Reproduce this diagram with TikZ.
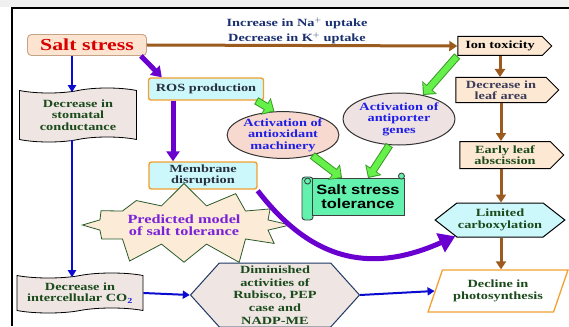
\documentclass[tikz,border=0pt]{standalone}
\usepackage{fontspec}
\setmainfont{Liberation Serif}[FakeStretch=1.3]
\newfontfamily\tolfont{Liberation Sans}[FakeStretch=1.22]
\usetikzlibrary{arrows.meta,positioning,calc,shapes.geometric,shapes.symbols}

\definecolor{stressfill}{HTML}{FCE4D0}
\definecolor{stressedge}{HTML}{C4A484}
\definecolor{stressred}{HTML}{D80000}
\definecolor{cellcyan}{HTML}{CCF8FC}
\definecolor{cellorange}{HTML}{F2A030}
\definecolor{celltext}{HTML}{283040}
\definecolor{leafpeach}{HTML}{FDE9D3}
\definecolor{textgreen}{HTML}{1B4A1B}
\definecolor{leafgray}{HTML}{3C3C5A}
\definecolor{wavefill}{HTML}{EFE6E4}
\definecolor{hexedge}{HTML}{1F3864}
\definecolor{ovalpink}{HTML}{F8D9D0}
\definecolor{ovalgray}{HTML}{EFE2E2}
\definecolor{ovalblue}{HTML}{1E1EE6}
\definecolor{tolgreen}{HTML}{62F2AE}
\definecolor{burstfill}{HTML}{FCEBD6}
\definecolor{burstedge}{HTML}{2A5A2A}
\definecolor{burstpurple}{HTML}{7A22D8}
\definecolor{uptakeblue}{HTML}{1A3070}
\definecolor{arrowbrown}{HTML}{9B5B1F}
\definecolor{arrowblue}{HTML}{0A0AD0}
\definecolor{arrowpurple}{HTML}{6A00D0}
\definecolor{fatgreen}{HTML}{66F04A}
\definecolor{fatedge}{HTML}{3A9A2A}

\newcommand{\boxfont}{\bfseries\fontsize{11}{11.5}\selectfont}

\tikzset{
  stressbox/.style={
    rectangle,
    rounded corners=4pt,
    draw=stressedge,
    fill=stressfill,
    line width=0.9pt,
    text=stressred,
    minimum width=119pt,
    minimum height=21pt,
    font=\bfseries\fontsize{16.8}{18}\selectfont
  },
  cellbox/.style={
    rectangle,
    rounded corners=2.5pt,
    draw=cellorange,
    fill=cellcyan,
    line width=1.4pt,
    text=celltext,
    align=center,
    inner sep=1pt,
    font=\boxfont
  },
  leafsign/.style={
    signal,
    signal to=east,
    signal pointer angle=90,
    draw=black,
    fill=leafpeach,
    line width=1pt,
    align=center,
    inner sep=1pt,
    font=\boxfont
  },
  hexbox/.style={
    signal,
    signal to=east and west,
    line width=1pt,
    align=center,
    inner sep=1pt,
    text=textgreen,
    font=\boxfont
  },
  wavebox/.style={
    tape,
    tape bend height=5pt,
    draw=black,
    fill=wavefill,
    line width=0.8pt,
    align=center,
    inner sep=1pt,
    text=textgreen,
    font=\boxfont
  },
  ovalbox/.style={
    ellipse,
    draw=black!80,
    line width=1pt,
    text=ovalblue,
    align=center,
    inner sep=0pt,
    font=\boxfont
  },
  photobox/.style={
    trapezium,
    trapezium left angle=66,
    trapezium right angle=114,
    trapezium stretches=true,
    draw=cellorange,
    fill=white,
    line width=1.3pt,
    align=center,
    text=textgreen,
    font=\boxfont
  },
  burstbox/.style={
    starburst,
    starburst points=12,
    starburst point height=24pt,
    random starburst=7,
    draw=burstedge,
    fill=burstfill,
    line width=0.8pt,
    align=center,
    text=burstpurple,
    font=\bfseries\fontsize{12.5}{12.5}\selectfont
  },
  tolbox/.style={
    rectangle,
    draw=black!75,
    fill=tolgreen,
    line width=0.9pt,
    align=center,
    font=\tolfont\bfseries\fontsize{13.5}{14}\selectfont
  },
  brownarrow/.style={-{Triangle[length=8pt,width=10pt]}, line width=3pt, draw=arrowbrown},
  bluearrow/.style={-{Triangle[length=7pt,width=8pt]}, line width=2pt, draw=arrowblue},
  purplearrow/.style={-{Triangle[length=10pt,width=13pt]}, line width=5pt, draw=arrowpurple},
  greenedge/.style={-{Triangle[length=10pt,width=19pt]}, line width=8pt, draw=fatedge},
  greenbody/.style={-{Triangle[length=7.6pt,width=15pt]}, line width=6pt, draw=fatgreen,
    shorten <=1pt, shorten >=1.5pt}
}

\begin{document}
\begin{tikzpicture}[x=1pt,y=-1pt]
  \useasboundingbox (0,0) rectangle (569,326);
  \fill[white] (0,0) rectangle (569,326);
  \fill[black!6] (0,0) rectangle (569,7);
  \draw[line width=2pt] (12,326) -- (12,8) -- (569,8);

  \node[stressbox] (salt) at (87,45) {Salt stress};
  \node[font=\bfseries\fontsize{11}{12}\selectfont,text=uptakeblue] (naup) at (297,23)
    {Increase in Na$^{+}$ uptake};
  \node[font=\bfseries\fontsize{11}{12}\selectfont,text=uptakeblue] (kup) at (297,38)
    {Decrease in K$^{+}$ uptake};

  % right column: ion effects down to photosynthesis
  \node[leafsign,minimum width=94pt,minimum height=19pt] (ion) at (500,46) {Ion toxicity};
  \node[leafsign,minimum width=103pt,minimum height=25pt,text=leafgray] (leafarea) at (501,90)
    {Decrease in\\leaf area};
  \node[leafsign,minimum width=104pt,minimum height=27pt,text=textgreen] (abscission) at (505,155)
    {Early leaf\\abscission};
  \node[hexbox,draw=black,fill=cellcyan,signal pointer angle=76,minimum width=113pt,minimum height=34pt]
    (carbox) at (500,220) {Limited\\carboxylation};
  \node[photobox,minimum width=140pt,minimum height=42pt] (decline) at (498,291)
    {Decline in\\photosynthesis};

  % left column: stomatal route
  \node[wavebox,minimum width=117pt,minimum height=54pt] (stomatal) at (78,115)
    {Decrease in\\stomatal\\conductance};
  \node[wavebox,minimum width=126pt,minimum height=40pt] (intercell) at (80,293)
    {Decrease in\\intercellular CO{\color{ovalblue}\textsubscript{2}}};
  \node[hexbox,draw=hexedge,fill=wavefill,signal pointer angle=96,minimum width=169pt,minimum height=64pt,
    font=\bfseries\fontsize{11}{12.6}\selectfont] (diminished) at (275,295)
    {Diminished\\activities of\\Rubisco, PEP\\case and\\NADP-ME};

  % middle: ROS and tolerance
  \node[cellbox,minimum width=115pt,minimum height=22pt] (ros) at (206,89) {ROS production};
  \node[cellbox,minimum width=108pt,minimum height=27pt] (membrane) at (203,175.5)
    {Membrane\\disruption};
  \node[ovalbox,fill=ovalpink,minimum width=110pt,minimum height=46pt] (antiox) at (283,135)
    {Activation of\\antioxidant\\machinery};
  \node[ovalbox,fill=ovalgray,minimum width=105pt,minimum height=52pt] (antiport) at (399,119)
    {Activation of\\antiporter\\genes};
  \node[burstbox,minimum width=222pt,minimum height=80pt] (model) at (184,225)
    {Predicted model\\of salt tolerance};

  \draw[line width=0.9pt,draw=black!75,fill=tolgreen,rounded corners=3pt]
    (302,177) rectangle (313,220);
  \node[tolbox,minimum width=92pt,minimum height=37pt] (tol) at (358,197) {Salt stress\\tolerance};
  \draw[line width=0.9pt,draw=black!75,fill=tolgreen] ([xshift=-4pt,yshift=-3pt]tol.north west) circle (3pt);
  \draw[line width=0.9pt,draw=black!75,fill=tolgreen] ([xshift=-3pt,yshift=2pt]tol.north east) circle (3pt);

  \coordinate (bluecol) at (72,0);
  \coordinate (roscol) at (173,0);
  \coordinate (tolL) at ([xshift=-16pt]tol.north);
  \coordinate (tolR) at ([xshift=10pt]tol.north);
  \coordinate (rosG) at ([xshift=-8pt]ros.south east);

  \draw[brownarrow] (salt.east) -- (ion.west);
  \draw[brownarrow] (ion.south) -- (ion.south |- leafarea.north);
  \draw[brownarrow] (leafarea.south) -- (leafarea.south |- abscission.north);
  \draw[brownarrow] (abscission.south -| leafarea.south) -- (leafarea.south |- carbox.north);
  \draw[brownarrow] (carbox.south -| leafarea.south) -- (leafarea.south |- decline.north);

  \draw[bluearrow] (salt.south -| bluecol) -- ([yshift=-2pt]stomatal.north -| bluecol);
  \draw[bluearrow] (stomatal.south -| bluecol) -- ([yshift=-2pt]intercell.north -| bluecol);
  \draw[bluearrow] (intercell.east) -- (diminished.west);
  \draw[bluearrow] (diminished.east) -- (decline.west);

  \draw[purplearrow] ([xshift=-6pt]salt.south east) -- ([xshift=14pt]ros.north west);
  \draw[purplearrow] (ros.south -| roscol) -- (membrane.north -| roscol);
  \draw[purplearrow,-{Triangle[length=16pt,width=20pt]}] ([yshift=-1pt]membrane.south east)
    .. controls (315,265) and (375,272) .. (carbox.200);

  \foreach \a/\b in {rosG/antiox.110, ion.south west/antiport.45, antiox.-35/tolL, antiport.-110/tolR} {
    \draw[greenedge] (\a) -- (\b);
    \draw[greenbody] (\a) -- (\b);
  }
\end{tikzpicture}
\end{document}
